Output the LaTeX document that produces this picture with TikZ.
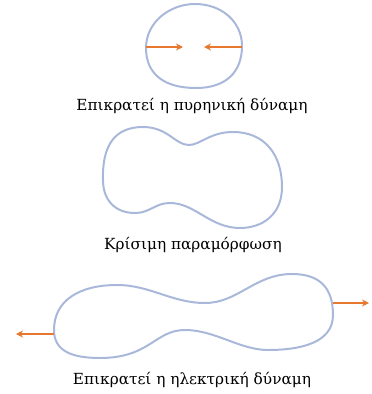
\documentclass[tikz,border=0pt]{standalone}
\usepackage{fontspec}
\setmainfont{DejaVu Serif}
\usepackage{tikz}
\usetikzlibrary{arrows.meta}
\usetikzlibrary{positioning}

\definecolor{dropline}{HTML}{A9B8DA}
\definecolor{forcearrow}{HTML}{E8782F}

\tikzset{
    drop/.style = {draw = dropline, line width = 2pt},
    force/.style = {draw = forcearrow, line width = 1.4pt, -{Stealth[length = 7pt, width = 7pt]}},
    caption/.style = {font = \fontsize{15.3}{17}\selectfont, anchor = base, inner sep = 0pt}
}

\begin{document}
\begin{tikzpicture}[x = 1pt, y = -1pt]
    \useasboundingbox (0,0) rectangle (372,394);

    % Draw the nucleus held together:
    \draw [drop] (146,48) .. controls (146,22) and (170,4) .. (195,4)
        .. controls (222,4) and (242,22) .. (242,46)
        .. controls (242,72) and (226,88) .. (196,88)
        .. controls (164,88) and (146,74) .. (146,48) -- cycle;
    \coordinate (InL) at (146,47);
    \coordinate (InLtip) at (183,47);
    \coordinate (InR) at (242,47);
    \coordinate (InRtip) at (204,47);
    \draw [force] (InL) -- (InLtip);
    \draw [force] (InR) -- (InRtip);
    \node [caption] (Strong) at (192,110) {Επικρατεί η πυρηνική δύναμη};

    % Draw the nucleus at the critical point:
    \draw [drop] (103,180) .. controls (102,145) and (115,127) .. (143,127)
        .. controls (168,127) and (175,145) .. (189,145)
        .. controls (200,145) and (210,132) .. (233,132)
        .. controls (265,132) and (282,155) .. (282,187)
        .. controls (282,215) and (262,228) .. (240,228)
        .. controls (210,228) and (195,203) .. (170,203)
        .. controls (155,203) and (150,213) .. (135,213)
        .. controls (115,213) and (103,200) .. (103,180) -- cycle;
    \node [caption] (Critical) at (193,249) {Κρίσιμη παραμόρφωση};

    % Draw the nucleus pulled apart:
    \draw [drop] (54,330) .. controls (54,300) and (80,285) .. (117,285)
        .. controls (150,285) and (172,303) .. (205,303)
        .. controls (238,303) and (255,274) .. (292,274)
        .. controls (320,274) and (333,288) .. (333,315)
        .. controls (333,343) and (300,350) .. (268,350)
        .. controls (240,350) and (215,330) .. (185,330)
        .. controls (155,330) and (150,358) .. (100,358)
        .. controls (70,358) and (54,350) .. (54,330) -- cycle;
    \coordinate (OutL) at (54,334);
    \coordinate (OutLtip) at (16,334);
    \coordinate (OutR) at (333,303);
    \coordinate (OutRtip) at (369,303);
    \draw [force] (OutL) -- (OutLtip);
    \draw [force] (OutR) -- (OutRtip);
    \node [caption] (Coulomb) at (192,384) {Επικρατεί η ηλεκτρική δύναμη};
\end{tikzpicture}
\end{document}
